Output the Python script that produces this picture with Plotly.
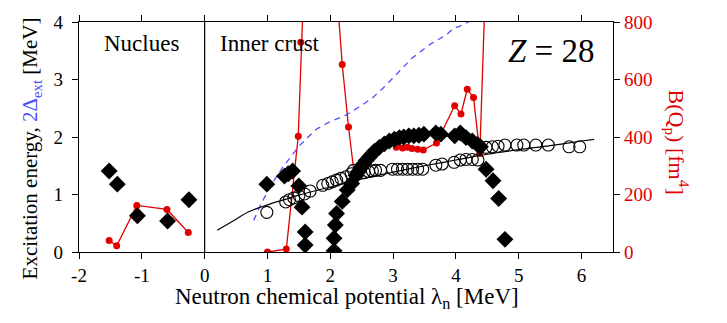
import plotly.graph_objects as go

# ---------------- data ----------------
# Diamonds (excitation energy, MeV)
dia_x = [-1.52, -1.39, -1.07, -0.59, -0.25,
         0.99, 1.27, 1.33, 1.40, 1.50, 1.55, 1.60, 1.60,
         2.06, 2.06, 2.08, 2.10, 2.19, 2.27, 2.34, 2.41, 2.45, 2.49, 2.53, 2.57,
         2.62, 2.66, 2.70, 2.78, 2.86, 2.94, 3.02, 3.10, 3.17, 3.25, 3.33, 3.41,
         3.49, 3.68, 3.76, 3.98, 4.07, 4.16, 4.26, 4.34, 4.39, 4.48, 4.59, 4.68, 4.78]
dia_y = [1.41, 1.18, 0.63, 0.54, 0.91,
         1.18, 1.32, 1.36, 1.41, 1.15, 0.78, 0.35, 0.12,
         0.02, 0.24, 0.47, 0.67, 0.88, 1.08, 1.19, 1.33, 1.40, 1.47, 1.53, 1.59,
         1.65, 1.70, 1.75, 1.82, 1.88, 1.93, 1.96, 1.99, 2.00, 2.02, 2.02, 2.03,
         2.05, 2.07, 2.05, 2.02, 2.07, 1.99, 1.93, 1.87, 1.83, 1.44, 1.24, 0.93, 0.22]

# Open circles
cir_x = [0.99, 1.29, 1.35, 1.42, 1.50, 1.59, 1.68, 1.88, 1.96, 2.03, 2.10, 2.17,
         2.25, 2.33, 2.37, 2.54, 2.61, 2.67, 2.72, 2.80, 2.99, 3.07, 3.15, 3.23,
         3.31, 3.39, 3.47, 3.68, 3.78, 3.97, 4.07, 4.16, 4.26, 4.35, 4.48, 4.58,
         4.67, 4.78, 4.97, 5.08, 5.27, 5.47, 5.80, 5.97]
cir_y = [0.69, 0.87, 0.91, 0.94, 0.98, 1.01, 1.06, 1.16, 1.19, 1.22, 1.25, 1.28,
         1.31, 1.36, 1.42, 1.38, 1.40, 1.41, 1.42, 1.42, 1.44, 1.44, 1.44, 1.44,
         1.44, 1.44, 1.44, 1.51, 1.53, 1.56, 1.60, 1.61, 1.61, 1.60, 1.82, 1.83,
         1.84, 1.86, 1.86, 1.86, 1.86, 1.86, 1.83, 1.83]

# Black solid curve
fit_x = [0.2, 0.5, 0.7, 1.0, 1.3, 1.5, 2.0, 2.5, 3.0, 3.5, 4.0, 4.5, 5.0, 5.5, 6.0, 6.2]
fit_y = [0.38, 0.57, 0.70, 0.82, 0.92, 0.99, 1.13, 1.27, 1.39, 1.50, 1.60, 1.70, 1.78, 1.85, 1.93, 1.96]

# Blue dashed 2*Delta_ext
gap_x = [0.78, 0.90, 1.05, 1.24, 1.50, 1.77, 2.00, 2.25, 2.50, 2.67, 2.85, 3.04,
         3.30, 3.60, 3.84, 3.97, 4.05, 4.20]
gap_y = [0.55, 0.84, 1.15, 1.47, 1.84, 2.13, 2.27, 2.38, 2.55, 2.68, 2.86, 3.08,
         3.37, 3.62, 3.77, 3.90, 3.92, 4.00]

# Red B(Qp) [fm^4], nucleus region and inner-crust region
bn_x = [-1.52, -1.40, -1.08, -0.60, -0.26]
bn_y = [40, 22, 162, 148, 68]
bc_x = [1.00, 1.30, 1.49, 1.53, 1.60, 2.10, 2.19, 2.29, 2.38, 2.45, 2.53, 2.62,
        2.70, 2.78, 2.86, 2.94, 3.05, 3.15, 3.23, 3.30, 3.39, 3.48, 3.69, 3.98, 4.08,
        4.18, 4.28, 4.38, 4.50]
bc_y = [0, 10, 403, 730, 1060, 920, 652, 435, 272, 280, 306, 330,
        350, 364, 376, 380, 364, 362, 364, 360, 357, 355, 379, 509, 480,
        566, 537, 343, 1130]

x_ticks = [-2, -1, 0, 1, 2, 3, 4, 5, 6]
x_ticktext = ["-2", "-1", "0", "1", "2", "3", "4", "5", "6"]

RED = "#e00000"
BLUE = "#4d4dff"
FONT = "Liberation Serif"

fig = go.Figure()
# red B(Qp) curves on the base (right-hand) axis so they are drawn beneath the rest
fig.add_trace(go.Scatter(x=bn_x, y=bn_y, mode="lines+markers", yaxis="y",
                         line=dict(color=RED, width=1.3), marker=dict(color=RED, size=7),
                         showlegend=False))
fig.add_trace(go.Scatter(x=bc_x, y=bc_y, mode="lines+markers", yaxis="y",
                         line=dict(color=RED, width=1.3), marker=dict(color=RED, size=7),
                         showlegend=False))
# energy quantities on the overlaying (left-hand) axis
fig.add_trace(go.Scatter(x=gap_x, y=gap_y, mode="lines", yaxis="y2",
                         line=dict(color=BLUE, width=1.3, dash="6px,5px"), showlegend=False))
fig.add_trace(go.Scatter(x=fit_x, y=fit_y, mode="lines", yaxis="y2",
                         line=dict(color="black", width=1.2),
                         line_shape="spline", showlegend=False))
fig.add_trace(go.Scatter(x=dia_x, y=dia_y, mode="markers", yaxis="y2",
                         marker=dict(symbol="diamond", color="black", size=13), showlegend=False))
fig.add_trace(go.Scatter(x=cir_x, y=cir_y, mode="markers", yaxis="y2",
                         marker=dict(symbol="circle-open", color="black", size=12,
                                     line=dict(width=1.1)), showlegend=False))

# divider at lambda = 0
fig.add_shape(type="line", x0=0, x1=0, y0=0, y1=4, xref="x", yref="y2",
              line=dict(color="black", width=1.2))

fig.update_layout(
    width=727, height=323,
    margin=dict(l=79, r=114, t=20, b=71),
    plot_bgcolor="white", paper_bgcolor="white",
    font=dict(family=FONT, size=19, color="black"),
    xaxis=dict(range=[-2, 6.5], tickvals=x_ticks, ticktext=x_ticktext,
               showgrid=False, zeroline=False,
               showline=True, linecolor="black", linewidth=1.2, mirror="ticks",
               ticks="outside", ticklen=6, tickwidth=1.2, tickcolor="black",
               tickfont=dict(size=19, family=FONT)),
    yaxis=dict(range=[0, 800], dtick=200, side="right",
               showgrid=False, zeroline=False, showline=True, linecolor="black",
               linewidth=1.2, ticks="outside", ticklen=6, tickwidth=1.2,
               tickcolor="black", tickfont=dict(size=19, family=FONT, color=RED)),
    yaxis2=dict(range=[0, 4], dtick=1, overlaying="y", side="left",
                showgrid=False, zeroline=False,
                showline=True, linecolor="black", linewidth=1.2,
                ticks="outside", ticklen=6, tickwidth=1.2, tickcolor="black",
                ticklabelstandoff=5,
                tickfont=dict(size=19, family=FONT)),
)

fig.add_annotation(x=-1.01, y=3.62, xref="x", yref="y2", text="Nuclues", showarrow=False,
                   font=dict(size=23, family=FONT))
fig.add_annotation(x=1.04, y=3.62, xref="x", yref="y2", text="Inner crust", showarrow=False,
                   font=dict(size=23, family=FONT))
fig.add_annotation(x=5.52, y=3.50, xref="x", yref="y2", text="<i>Z</i> = 28", showarrow=False,
                   font=dict(size=33, family=FONT))
fig.add_annotation(x=-0.09, y=0.45, xref="paper", yref="paper", textangle=-90,
                   xanchor="center", yanchor="middle",
                   text="Excitation energy, <span style='color:%s'>2Δ<sub>ext</sub></span> [MeV]" % BLUE,
                   showarrow=False, font=dict(size=21, family=FONT))
fig.add_annotation(x=1.12, y=0.48, xref="paper", yref="paper", textangle=90,
                   xanchor="center", yanchor="middle",
                   text="B(Q<sub>p</sub>) [fm<sup>4</sup>]", showarrow=False,
                   font=dict(size=22, family=FONT, color=RED))
fig.add_annotation(x=0.502, y=-0.198, xref="paper", yref="paper",
                   xanchor="center", yanchor="middle",
                   text="Neutron chemical potential λ<sub>n</sub> [MeV]", showarrow=False,
                   font=dict(size=23, family=FONT))

fig.write_html("out.html")
